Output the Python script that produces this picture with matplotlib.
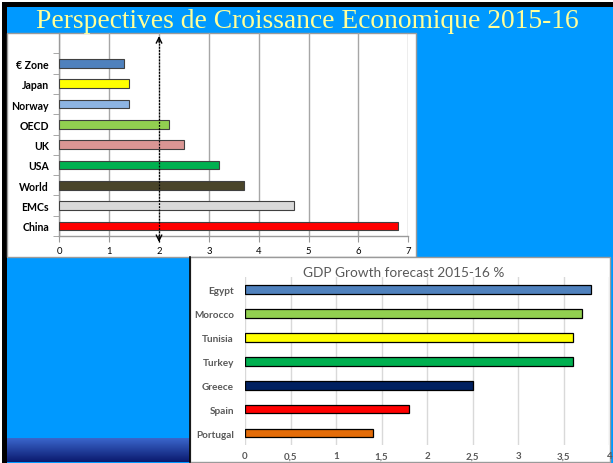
import matplotlib
matplotlib.use("Agg")
import matplotlib.pyplot as plt
from matplotlib.patches import Rectangle
from matplotlib.colors import LinearSegmentedColormap
import numpy as np

# ---------------- data ----------------
top_categories = ["China", "EMCs", "World", "USA", "UK", "OECD", "Norway", "Japan", "€ Zone"]
top_values = [6.8, 4.7, 3.7, 3.2, 2.5, 2.2, 1.4, 1.4, 1.3]
top_colors = ["#FF0000", "#D9D9D9", "#4A452A", "#00B050", "#DA9694",
              "#92D050", "#8DB4E2", "#FFFF00", "#4F81BD"]
top_xticks = [0, 1, 2, 3, 4, 5, 6, 7]
ref_line = 2

bot_categories = ["Portugal", "Spain", "Greece", "Turkey", "Tunisia", "Morocco", "Egypt"]
bot_values = [1.4, 1.8, 2.5, 3.6, 3.6, 3.7, 3.8]
bot_colors = ["#E36C09", "#FF0000", "#002060", "#00B050", "#FFFF00", "#92D050", "#4F81BD"]
bot_xticks = [0, 0.5, 1, 1.5, 2, 2.5, 3, 3.5, 4]
bot_xticklabels = ["0", "0,5", "1", "1,5", "2", "2,5", "3", "3,5", "4"]

slide_title = "Perspectives de Croissance Economique 2015-16"
bot_title = "GDP Growth forecast 2015-16 %"

W, H = 613, 464
fig = plt.figure(figsize=(W / 100, H / 100), dpi=100)
fig.patch.set_facecolor("white")


def rect(x0, y0, x1, y1, **kw):
    """pixel coords (top-left origin) -> figure rect"""
    r = Rectangle((x0 / W, 1 - y1 / H), (x1 - x0) / W, (y1 - y0) / H,
                  transform=fig.transFigure, **kw)
    fig.add_artist(r)
    return r


def axes_px(x0, y0, x1, y1):
    return fig.add_axes([x0 / W, 1 - y1 / H, (x1 - x0) / W, (y1 - y0) / H])


BLUE = "#0099FF"
# slide frame
rect(2, 3, W, H, facecolor="black", edgecolor="none", zorder=0)
rect(7, 8, W, H, facecolor=BLUE, edgecolor="none", zorder=0)

# gradient strip bottom-left
gax = axes_px(7, 439, 190, 463)
grad = np.linspace(0, 1, 64).reshape(-1, 1)
cmap = LinearSegmentedColormap.from_list("g", ["#3A66CC", "#0B1A6E"])
gax.imshow(grad, aspect="auto", cmap=cmap, extent=[0, 1, 0, 1])
gax.set_axis_off()

# title
fig.text(307.5 / W, 1 - 21 / H, slide_title, color="#FFFF99",
         family="Liberation Serif", fontsize=19.8, ha="center", va="center")

# upper white box
rect(7, 34, 416, 258, facecolor="white", edgecolor="#9A9A9A", lw=1, zorder=1)
# lower white box
rect(190, 258, 610, 463, facecolor="white", edgecolor="#9A9A9A", lw=1, zorder=1)
fig.add_artist(plt.Line2D([190 / W, 190 / W], [1 - 258 / H, 1 - 463 / H],
                          transform=fig.transFigure, color="black", lw=1.2, zorder=2))

# ---------------- upper chart ----------------
ax = axes_px(59.3, 34, 408.3, 237)
ax.set_zorder(3)
ax.patch.set_alpha(0)
y = np.arange(len(top_categories))
ax.barh(y, top_values, height=0.42, color=top_colors, edgecolor="#404040",
        linewidth=0.8, zorder=3)
ax.set_xlim(0, 7)
ax.set_ylim(-0.5, len(top_categories) + 0.5)
ax.set_xticks(top_xticks)
ax.set_xticklabels([str(t) for t in top_xticks], family="Lato", fontsize=6.8, color="black")
ax.set_yticks(y)
ax.set_yticklabels(top_categories, family="Lato", fontweight="bold", fontsize=7.6, color="black")
ax.set_yticks(np.arange(-0.5, len(top_categories)), minor=True)
ax.tick_params(axis="y", which="major", length=0, pad=7.5)
ax.tick_params(axis="y", which="minor", length=4, color="#9A9A9A", direction="out")
ax.tick_params(axis="x", length=4, color="#9A9A9A", pad=3)
ax.grid(axis="x", color="#A6A6A6", lw=1, zorder=0)
for s in ["top", "right"]:
    ax.spines[s].set_visible(False)
for s in ["left", "bottom"]:
    ax.spines[s].set_color("#9A9A9A")
    ax.spines[s].set_linewidth(1)
# dotted double arrow
y_lo, y_hi = -0.8, 9.35
ax.plot([ref_line, ref_line], [y_lo, y_hi], color="black", lw=0.9,
        linestyle=(0, (1.5, 1)), clip_on=False, zorder=5)
ax.annotate("", xy=(ref_line, y_hi), xytext=(ref_line, y_hi - 0.3),
            arrowprops=dict(arrowstyle="->", lw=1, color="black",
                            shrinkA=0, shrinkB=0), annotation_clip=False, zorder=5)
ax.annotate("", xy=(ref_line, y_lo), xytext=(ref_line, y_lo + 0.3),
            arrowprops=dict(arrowstyle="->", lw=1, color="black",
                            shrinkA=0, shrinkB=0), annotation_clip=False, zorder=5)

# ---------------- lower chart ----------------
bx = axes_px(245, 278.3, 609.3, 446)
bx.set_zorder(3)
bx.patch.set_alpha(0)
yb = np.arange(len(bot_categories))
bx.barh(yb, bot_values, height=0.37, color=bot_colors, edgecolor="black",
        linewidth=0.9, zorder=3)
bx.set_xlim(0, 4)
bx.set_ylim(-0.5, len(bot_categories) - 0.5)
bx.set_xticks(bot_xticks)
bx.set_xticklabels(bot_xticklabels, family="Lato", fontweight="bold", fontsize=7, color="#595959")
bx.set_yticks(yb)
bx.set_yticklabels(bot_categories, family="Lato", fontweight="bold", fontsize=7.2, color="#595959")
bx.tick_params(axis="both", length=0)
bx.tick_params(axis="y", pad=8)
bx.tick_params(axis="x", pad=4.5)
bx.grid(axis="x", color="#D9D9D9", lw=1, zorder=0)
for s in bx.spines.values():
    s.set_visible(False)
fig.text(404 / W, 1 - 273 / H, bot_title, color="#595959", family="Lato",
         fontsize=9.8, ha="center", va="center", zorder=4)

fig.savefig("out.png", dpi=100)
